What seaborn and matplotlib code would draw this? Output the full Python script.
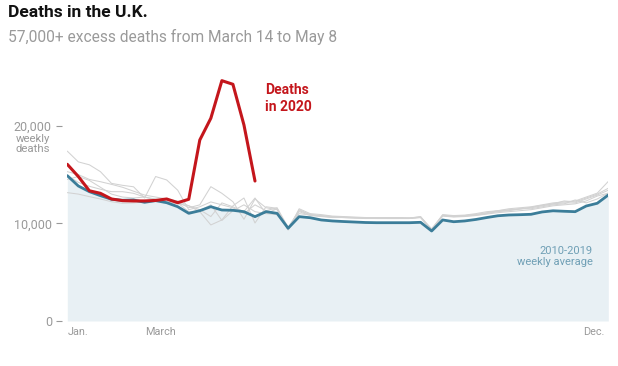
import matplotlib
matplotlib.use("Agg")
import matplotlib.pyplot as plt
import seaborn as sns
import numpy as np
import pandas as pd

# ---- data (weekly deaths) ----
weeks = list(range(50))

avg_2010_2019 = [14890, 13830, 13250, 12840, 12470, 12370, 12400, 12160, 12330, 12120,
                 11710, 11030, 11300, 11710, 11370, 11340, 11200, 10690, 11200, 11030,
                 9500, 10690, 10580, 10350, 10250, 10190, 10140, 10090, 10070, 10070,
                 10070, 10070, 10110, 9220, 10350, 10170, 10250, 10400, 10600, 10780,
                 10860, 10890, 10930, 11170, 11290, 11240, 11200, 11780, 12060, 12910]

deaths_2020 = [16050, 14800, 13340, 13080, 12500, 12330, 12300, 12300, 12350, 12500,
               12120, 12470, 18540, 20770, 24620, 24250, 20080, 14340]

year_a = [17400, 16300, 16000, 15300, 14100, 13900, 13750, 12600, 14800, 14450,
          13400, 11400, 11700, 12200, 11900, 11600, 11000, 11900, 11300, 11600,
          9600, 11300, 10900, 10800, 10700, 10650, 10600, 10600, 10550, 10550,
          10600, 10550, 10600, 9450, 10850, 10750, 10800, 10900, 11100, 11300,
          11500, 11600, 11700, 11900, 12100, 12200, 12300, 12700, 13100, 14300]
year_b = [15300, 15000, 14500, 14270, 14000, 13700, 13300, 12900, 12700, 12500,
          12300, 11800, 11400, 10700, 12100, 11700, 11200, 12600, 11000, 11500,
          9350, 11500, 11000, 10900, 10750, 10700, 10650, 10600, 10600, 10600,
          10550, 10550, 10700, 9350, 10900, 10800, 10850, 11000, 11200, 11300,
          11400, 11500, 11600, 11800, 12000, 12300, 12200, 12600, 13000, 13600]
year_c = [14900, 14200, 13800, 13500, 13250, 13250, 13080, 12700, 12400, 12400,
          12200, 11600, 11900, 13760, 13080, 12220, 10420, 12500, 11600, 11400,
          9400, 11200, 10800, 10700, 10600, 10600, 10550, 10500, 10500, 10500,
          10500, 10500, 10650, 9300, 10800, 10700, 10750, 10850, 11000, 11200,
          11300, 11500, 11500, 11700, 11900, 12000, 12400, 12100, 12500, 13100]
year_d = [13150, 13000, 12740, 12500, 12220, 12060, 12100, 12200, 12300, 12200,
          12000, 11800, 11200, 9840, 10350, 11800, 12600, 10040, 11700, 11550,
          9320, 11400, 10900, 10750, 10650, 10600, 10550, 10550, 10500, 10500,
          10500, 10500, 10600, 9250, 10750, 10650, 10700, 10800, 10950, 11100,
          11200, 11300, 11400, 11600, 11800, 11900, 12000, 12300, 12800, 13100]
year_e = [14500, 14800, 14400, 13700, 13000, 12700, 12600, 12700, 12500, 12300,
          12100, 11200, 11300, 11900, 10300, 11300, 11900, 11200, 11000, 10900,
          9550, 11000, 10850, 10750, 10650, 10600, 10600, 10550, 10550, 10500,
          10500, 10550, 10650, 9400, 10800, 10700, 10800, 10900, 11050, 11250,
          11350, 11450, 11650, 11850, 12000, 12100, 12100, 12500, 12900, 13400]
past_years = [year_a, year_b, year_c, year_d, year_e]

y_ticks = [0, 10000, 20000]
y_tick_labels = ["0", "10,000", "20,000"]
month_labels = ["Jan.", "March", "Dec."]
month_pos = [0, 8.4, 47.7]

# ---- style ----
sns.set_theme(style="white")
plt.rcParams["font.family"] = ["Roboto", "DejaVu Sans"]

W, H = 618, 366
fig = plt.figure(figsize=(W / 100, H / 100), dpi=100)
x0, x1 = 67.3, 608.3
ybot, ytop = 321.0, 67.2
ax = fig.add_axes([x0 / W, 1 - ybot / H, (x1 - x0) / W, (ybot - ytop) / H])

grey = "#d2d2d2"
blue = "#3b7d99"
red = "#c4161c"
fill = "#e8f0f4"

ax.fill_between(weeks, avg_2010_2019, 0, color=fill, lw=0, zorder=1)

for yr in past_years:
    sns.lineplot(x=weeks, y=yr, ax=ax, color=grey, lw=0.75, zorder=2)
sns.lineplot(x=weeks, y=avg_2010_2019, ax=ax, color=blue, lw=2.0, zorder=3)
sns.lineplot(x=weeks[:len(deaths_2020)], y=deaths_2020, ax=ax, color=red, lw=2.2, zorder=4)

ax.set_xlim(0, 49)
ax.set_ylim(0, 26000)
for s in ax.spines.values():
    s.set_visible(False)
ax.spines["left"].set_position(("outward", 3.8))

ax.set_yticks(y_ticks)
ax.set_yticklabels(y_tick_labels)
ax.tick_params(axis="y", left=True, length=4.3, width=0.8, color="#999999",
               labelcolor="#999999", labelsize=9, pad=3)
ax.set_xticks([])
ax.set_xlabel("")
ax.set_ylabel("")

tick_col = "#9a9a9a"
for lab, pos in zip(month_labels, month_pos):
    ha = "left" if lab == "Jan." else "center"
    ax.text(pos, -0.022, lab, transform=ax.get_xaxis_transform(), ha=ha, va="top",
            fontsize=7.8, color=tick_col)

fig.text(33 / W, 1 - 134 / H, "weekly\ndeaths", ha="center", va="top", fontsize=8.2,
         color="#999999", linespacing=0.95)

ax.text(17.9, 22800, "Deaths\nin 2020", color=red, fontsize=10, fontweight="bold",
        ha="left", va="center", linespacing=1.2)
ax.text(47.6, 6600, "2010-2019\nweekly average", color="#6f9fb5", fontsize=8,
        ha="right", va="center", linespacing=1.2)

fig.text(8 / W, 1 - 5 / H, "Deaths in the U.K.", fontsize=12.5, fontweight="bold",
         color="#111111", ha="left", va="top")
fig.text(8 / W, 1 - 29 / H, "57,000+ excess deaths from March 14 to May 8", fontsize=11.2,
         color="#9a9a9a", ha="left", va="top")

fig.savefig("out.png", dpi=100)
